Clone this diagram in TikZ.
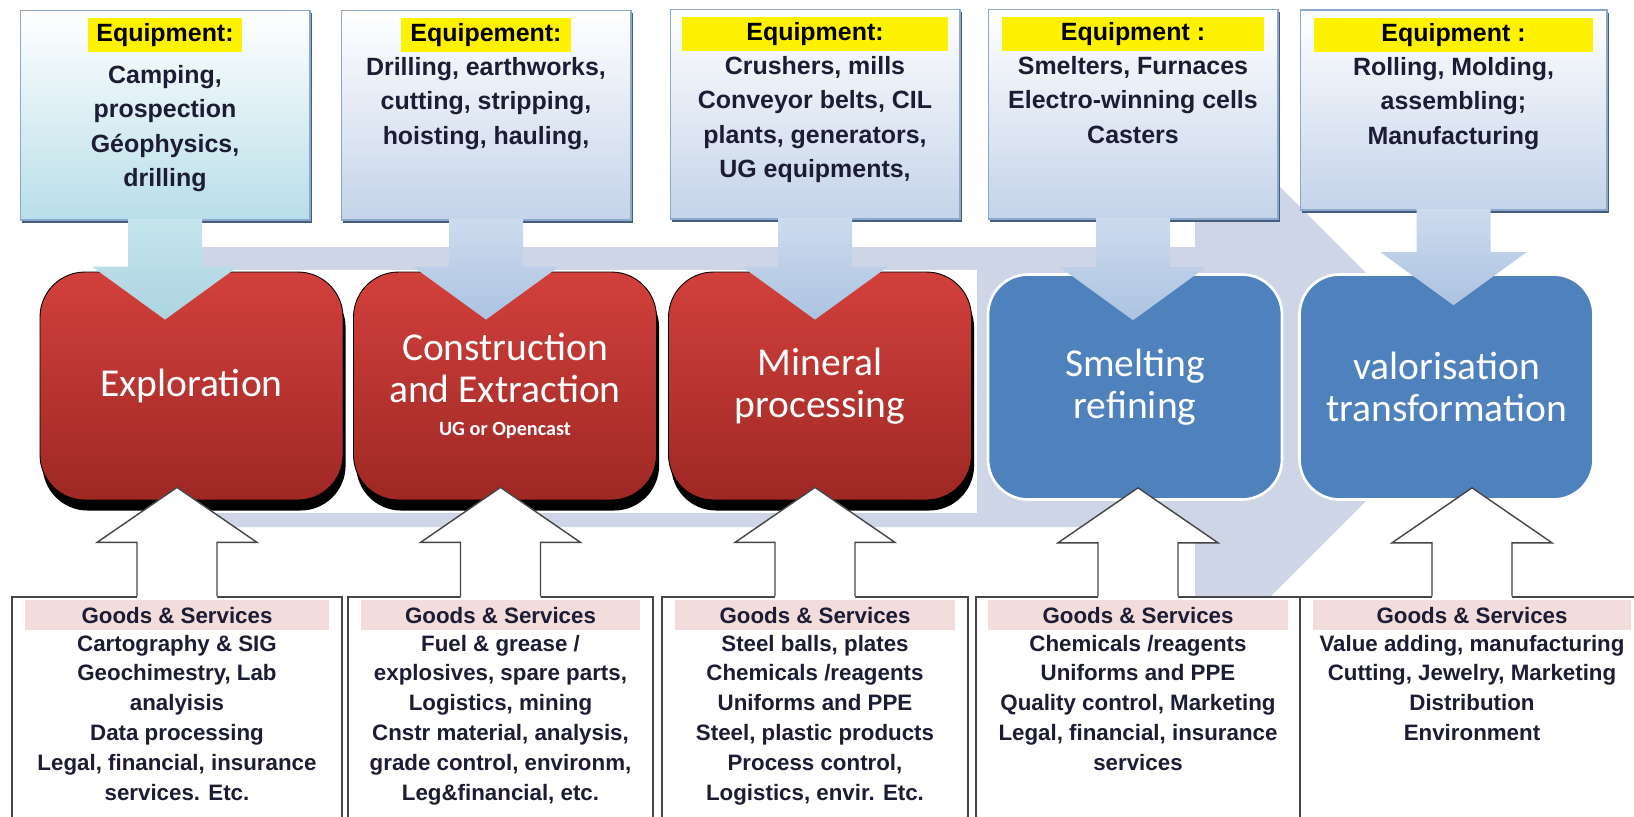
\documentclass[tikz,border=0pt]{standalone}
\usepackage{fontspec}
\setmainfont{Liberation Sans}
\newfontfamily\calibri{Carlito}
\usepackage{tikz}
\usetikzlibrary{positioning,calc,shadows}

\definecolor{bandgrey}{RGB}{206,213,230}
\definecolor{redtop}{RGB}{210,64,60}
\definecolor{redbot}{RGB}{158,40,36}
\definecolor{stageblue}{RGB}{79,129,189}
\definecolor{eqblue}{RGB}{196,211,233}
\definecolor{eqcyan}{RGB}{184,222,232}
\definecolor{eqborder}{RGB}{140,168,204}
\definecolor{eqshadow}{RGB}{70,92,125}
\definecolor{arrowblue}{RGB}{172,195,225}
\definecolor{arrowlight}{RGB}{205,219,238}
\definecolor{arrowcyan}{RGB}{172,212,225}
\definecolor{arrowcyanlight}{RGB}{198,229,237}
\definecolor{goodspink}{RGB}{242,221,220}
\definecolor{textnavy}{RGB}{28,28,52}
\definecolor{goodsline}{RGB}{70,70,70}

\tikzset{
  eqbox/.style={draw=eqborder, line width=0.6pt, top color=white, bottom color=eqblue,
    minimum width=5.8cm, minimum height=4.2cm, inner sep=0pt,
    drop shadow={shadow xshift=1.2pt, shadow yshift=-1.5pt, fill=eqshadow, opacity=1}},
  eqhead/.style={fill=yellow, minimum height=0.68cm, inner sep=0pt, text=black,
    font=\bfseries\fontsize{14.2}{17}\selectfont},
  eqtext/.style={align=center, inner sep=0pt, text=textnavy,
    font=\bfseries\fontsize{14.2}{19.5}\selectfont},
  redstage/.style={draw=black, line width=0.5pt, top color=redtop, bottom color=redbot,
    rounded corners=0.9cm, minimum width=6.06cm, minimum height=4.56cm,
    drop shadow={shadow xshift=1.5pt, shadow yshift=-6pt, fill=black, opacity=1}},
  bluestage/.style={draw=white, line width=1.5pt, fill=stageblue, rounded corners=0.8cm,
    minimum width=5.88cm, minimum height=4.5cm},
  stagetext/.style={text=white, align=center, font=\calibri\fontsize{22.5}{24}\selectfont},
  goodsbox/.style={draw=goodsline, line width=0.8pt, fill=white, minimum height=4.66cm},
  goodshead/.style={fill=goodspink, minimum height=0.6cm, inner sep=0pt, text=textnavy,
    font=\bfseries\fontsize{12.7}{15}\selectfont},
  goodstext/.style={align=center, inner sep=0pt, text=textnavy,
    font=\bfseries\fontsize{12.7}{17}\selectfont},
  downarrow/.style={top color=arrowlight, bottom color=arrowblue},
  cyanarrow/.style={top color=arrowcyanlight, bottom color=arrowcyan},
  upedge/.style={draw=goodsline, line width=0.8pt, line join=miter},
}

% block arrow from an equipment box down into a stage box
\newcommand{\feedarrow}[4][downarrow]{%
  \coordinate (tip) at ($(#2.south |- #3.north)+(0,#4)$);
  \path[#1] ($(#2.south)+(-37,-2)$) -- ($(tip)+(-37,-53)$) -- ($(tip)+(-73,-53)$) -- (tip)
    -- ($(tip)+(73,-53)$) -- ($(tip)+(37,-53)$) -- ($(#2.south)+(37,-2)$) -- cycle;}

% open block arrow from a goods box up into a stage box
\newcommand{\supplyarrow}[2]{%
  \coordinate (tip) at ($(#1.north |- #2.south)+(0,-13)$);
  \fill[white] ($(#1.north)+(-40,3)$) -- ($(tip)+(-40,55)$) -- ($(tip)+(-80,55)$) -- (tip)
    -- ($(tip)+(80,55)$) -- ($(tip)+(40,55)$) -- ($(#1.north)+(40,3)$) -- cycle;
  \draw[upedge] ($(#1.north)+(-40,0)$) -- ($(tip)+(-40,55)$) -- ($(tip)+(-80,55)$) -- (tip)
    -- ($(tip)+(80,55)$) -- ($(tip)+(40,55)$) -- ($(#1.north)+(40,0)$);}

\begin{document}
\begin{tikzpicture}[x=0.02cm, y=-0.02cm]
  \clip (0,0) rectangle (1634,816);
  \fill[white] (0,0) rectangle (1634,816);

  % background flow arrow
  \fill[bandgrey] (185,247) -- (1195,247) -- (1195,102) -- (1480,387)
    -- (1195,672) -- (1195,527) -- (185,527) -- cycle;
  \fill[white] (40,270) rectangle (977,513);

  % stages
  \node[redstage, stagetext] (s1) at (191.5,386) {Exploration};
  \node[redstage, stagetext] (s2) at (505,386)
    {Construction\\and Extraction\\[-5pt]{\bfseries\fontsize{11.5}{13}\selectfont UG or Opencast}};
  \node[redstage, stagetext] (s3) at (820,386) {Mineral\\processing};
  \node[bluestage, stagetext] (s4) at (1135,387) {Smelting\\refining};
  \node[bluestage, stagetext] (s5) at (1446.5,387) {valorisation\\transformation};

  % equipment
  \node[eqbox, bottom color=eqcyan] (t1) at (165,115) {};
  \node[eqbox] (t2) at (486,115) {};
  \node[eqbox] (t3) at (815,114) {};
  \node[eqbox] (t4) at (1133,114) {};
  \node[eqbox, minimum width=6.14cm, minimum height=4.0cm] (t5) at (1453.5,110) {};

  \node[eqhead, minimum width=3.08cm, below=0.16cm of t1.north] (e1) {Equipment:};
  \node[eqhead, minimum width=3.4cm, below=0.16cm of t2.north] (e2) {Equipement:};
  \node[eqhead, minimum width=5.32cm, below=0.16cm of t3.north] (e3) {Equipment:};
  \node[eqhead, minimum width=5.26cm, below=0.16cm of t4.north] (e4) {Equipment :};
  \node[eqhead, minimum width=5.6cm, below=0.16cm of t5.north] (e5) {Equipment :};

  \node[eqtext, below=0.26cm of e1] (l1) {Camping,\\prospection\\Géophysics,\\drilling};
  \node[eqtext, below=0.1cm of e2] (l2) {Drilling, earthworks,\\cutting, stripping,\\hoisting, hauling,};
  \node[eqtext, below=0.1cm of e3] (l3) {Crushers, mills\\Conveyor belts, CIL\\plants, generators,\\UG equipments,};
  \node[eqtext, below=0.1cm of e4] (l4) {Smelters, Furnaces\\Electro-winning cells\\Casters};
  \node[eqtext, below=0.1cm of e5] (l5) {Rolling, Molding,\\assembling;\\Manufacturing};

  % goods and services
  \node[goodsbox, minimum width=6.6cm] (g1) at (177,713.5) {};
  \node[goodsbox, minimum width=6.1cm] (g2) at (500.5,713.5) {};
  \node[goodsbox, minimum width=6.12cm] (g3) at (815,713.5) {};
  \node[goodsbox, minimum width=6.48cm] (g4) at (1138,713.5) {};
  \node[goodsbox, minimum width=6.88cm] (g5) at (1472,713.5) {};

  \node[goodshead, minimum width=6.08cm, below=0.07cm of g1.north] (h1) {Goods \& Services};
  \node[goodshead, minimum width=5.58cm, below=0.07cm of g2.north] (h2) {Goods \& Services};
  \node[goodshead, minimum width=5.6cm, below=0.07cm of g3.north] (h3) {Goods \& Services};
  \node[goodshead, minimum width=6.0cm, below=0.07cm of g4.north] (h4) {Goods \& Services};
  \node[goodshead, minimum width=6.36cm, below=0.07cm of g5.north] (h5) {Goods \& Services};

  \node[goodstext, below=0.08cm of h1] (gl1) {Cartography \& SIG\\Geochimestry, Lab\\analyisis\\Data processing\\Legal, financial, insurance\\services. Etc.};
  \node[goodstext, below=0.08cm of h2] (gl2) {Fuel \& grease /\\explosives, spare parts,\\Logistics, mining\\Cnstr material, analysis,\\grade control, environm,\\Leg\&financial, etc.};
  \node[goodstext, below=0.08cm of h3] (gl3) {Steel balls, plates\\Chemicals /reagents\\Uniforms and PPE\\Steel, plastic products\\Process control,\\Logistics, envir. Etc.};
  \node[goodstext, below=0.08cm of h4] (gl4) {Chemicals /reagents\\Uniforms and PPE\\Quality control, Marketing\\Legal, financial, insurance\\services};
  \node[goodstext, below=0.08cm of h5] (gl5) {Value adding, manufacturing\\Cutting, Jewelry, Marketing\\Distribution\\Environment};

  % arrows into the stages
  \feedarrow[cyanarrow]{t1}{s1}{48}
  \feedarrow{t2}{s2}{48}
  \feedarrow{t3}{s3}{48}
  \feedarrow{t4}{s4}{47}
  \feedarrow{t5}{s5}{32}

  \supplyarrow{g1}{s1}
  \supplyarrow{g2}{s2}
  \supplyarrow{g3}{s3}
  \supplyarrow{g4}{s4}
  \supplyarrow{g5}{s5}
\end{tikzpicture}
\end{document}
